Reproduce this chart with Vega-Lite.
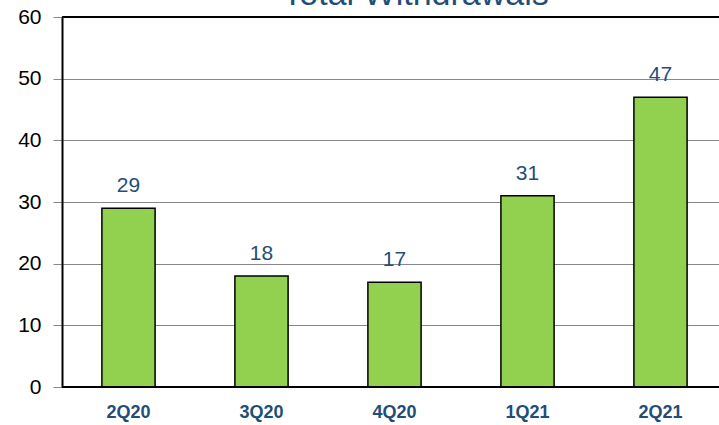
{
  "$schema": "https://vega.github.io/schema/vega-lite/v6.json",
  "width": 665,
  "height": 370,
  "autosize": "none",
  "padding": {"left": 62, "top": 17, "right": 0, "bottom": 38},
  "background": "white",
  "title": {
    "text": "Total Withdrawals",
    "font": "Liberation Sans",
    "fontSize": 34,
    "fontWeight": "normal",
    "color": "#1F4E79",
    "anchor": "middle",
    "baseline": "alphabetic",
    "offset": 0,
    "dy": 33,
    "dx": 21
  },
  "config": {
    "view": {"stroke": null},
    "font": "Liberation Sans"
  },
  "data": {
    "values": [
      {"quarter": "2Q20", "value": 29},
      {"quarter": "3Q20", "value": 18},
      {"quarter": "4Q20", "value": 17},
      {"quarter": "1Q21", "value": 31},
      {"quarter": "2Q21", "value": 47}
    ]
  },
  "encoding": {
    "x": {
      "field": "quarter",
      "type": "nominal",
      "sort": null,
      "scale": {"paddingInner": 0.6, "paddingOuter": 0.3},
      "axis": {
        "title": null,
        "labelAngle": 0,
        "labelFont": "Liberation Sans",
        "labelFontSize": 18,
        "labelFontWeight": "bold",
        "labelColor": "#1F4E79",
        "labelPadding": 16,
        "ticks": false,
        "domain": false
      }
    }
  },
  "layer": [
    {
      "mark": {"type": "bar", "fill": "#92D050", "stroke": "black", "strokeWidth": 1.5},
      "encoding": {
        "y": {
          "field": "value",
          "type": "quantitative",
          "scale": {"domain": [0, 60], "nice": false},
          "axis": {
            "title": null,
            "values": [0, 10, 20, 30, 40, 50, 60],
            "labelFont": "Liberation Sans",
            "labelFontSize": 21,
            "labelColor": "black",
            "labelPadding": 12,
            "tickSize": 9,
            "tickColor": "#888888",
            "domainColor": "black",
            "domainWidth": 2,
            "grid": true,
            "gridColor": "#888888",
            "gridWidth": 1
          }
        }
      }
    },
    {
      "mark": {"type": "text", "baseline": "alphabetic", "dy": -16, "fontSize": 21, "color": "#1F4E79", "font": "Liberation Sans"},
      "encoding": {
        "y": {"field": "value", "type": "quantitative"},
        "text": {"field": "value", "type": "quantitative"}
      }
    },
    {
      "data": {"values": [{"v": 0}, {"v": 60}]},
      "mark": {"type": "rule", "color": "black", "strokeWidth": 2},
      "encoding": {
        "y": {"field": "v", "type": "quantitative"},
        "x": {"value": 0},
        "x2": {"value": 665}
      }
    }
  ]
}
